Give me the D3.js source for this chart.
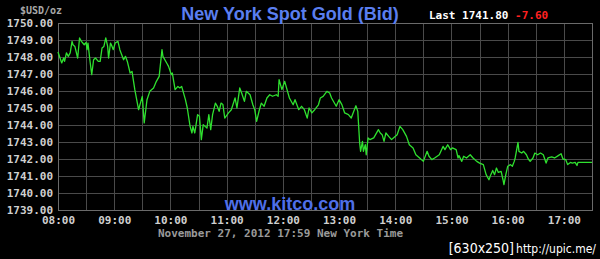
<!DOCTYPE html>
<html>
<head>
<meta charset="utf-8">
<script src="https://cdn.jsdelivr.net/npm/d3@7"></script>
<style>
  html, body { margin: 0; padding: 0; background: #000; }
  svg { display: block; }
</style>
</head>
<body>
<svg width="600" height="259"></svg>
<script>
// minutes after 08:00 New York time
var minutes = [0,4,6,7,9,11,13,15,16,18,21,23,25,28,30,31,32,34,36,38,40,43,45,47,49,51,53,54,56,57,59,61,64,66,70,72,74,77,79,82,86,89,90,92,95,98,102,105,108,111,112,116,118,121,122,125,128,130,132,136,138,141,143,144,146,149,151,153,155,157,159,161,163,165,168,170,172,174,176,178,182,185,189,191,194,196,199,201,205,208,210,212,215,217,220,223,226,229,233,235,236,239,242,245,247,251,253,257,260,263,266,268,271,274,278,280,283,287,290,292,297,300,303,306,310,313,315,318,320,322,323,325,326,328,329,331,333,337,339,342,344,346,348,350,353,356,358,362,365,368,372,375,379,382,386,390,394,396,399,402,407,411,413,416,419,421,425,427,428,431,433,436,440,443,447,450,454,457,460,462,464,466,468,470,473,475,476,478,480,483,485,487,488,491,492,495,497,500,502,504,507,509,512,515,518,521,523,527,530,534,537,539,542,544,547,549,552,554,555,561,570];
var prices = [1748.29,1747.65,1747.94,1747.74,1748.24,1748.04,1748.24,1748.92,1748.72,1748.62,1747.94,1749.12,1748.92,1748.72,1748.86,1748.43,1748.82,1747.84,1746.96,1747.84,1747.94,1747.74,1747.74,1748.53,1748.62,1749.12,1748.62,1747.94,1748.82,1748.72,1748.43,1748.82,1748.92,1748.43,1747.84,1748.04,1747.74,1747.06,1747.15,1746.08,1744.90,1745.49,1745.68,1744.12,1745.49,1745.98,1746.18,1746.57,1746.86,1748.43,1748.04,1747.65,1747.45,1746.96,1747.06,1746.08,1746.27,1746.18,1746.27,1745.49,1745.00,1743.92,1743.53,1743.92,1743.53,1744.61,1744.51,1743.14,1744.02,1743.92,1743.82,1744.61,1743.73,1744.61,1745.29,1745.10,1744.80,1745.29,1745.20,1744.41,1744.71,1744.90,1745.59,1745.00,1746.18,1745.88,1745.39,1745.98,1745.78,1745.19,1744.90,1744.21,1744.90,1745.29,1745.10,1745.59,1745.78,1745.69,1745.78,1745.69,1746.67,1746.08,1746.57,1745.98,1745.59,1745.19,1745.49,1744.90,1745.10,1744.90,1744.41,1745.00,1744.71,1744.90,1745.19,1745.59,1745.68,1745.98,1745.88,1745.59,1745.10,1745.49,1745.20,1744.71,1744.61,1744.41,1744.71,1745.13,1744.80,1742.94,1742.45,1743.04,1742.45,1742.84,1742.25,1743.24,1743.14,1743.24,1743.43,1743.73,1743.53,1743.43,1743.04,1743.53,1743.33,1743.14,1743.24,1743.43,1743.92,1743.73,1743.33,1742.84,1742.65,1742.25,1742.06,1741.86,1742.45,1742.16,1741.96,1742.06,1742.25,1742.74,1742.55,1742.84,1742.55,1742.65,1742.55,1742.06,1742.20,1741.86,1742.16,1742.06,1742.25,1742.06,1741.86,1741.76,1741.67,1741.08,1740.78,1741.08,1741.33,1741.08,1741.47,1741.21,1741.27,1740.78,1740.49,1741.08,1741.57,1741.67,1741.57,1741.86,1742.06,1742.98,1742.45,1742.35,1742.45,1742.25,1742.00,1741.86,1742.06,1742.35,1742.25,1742.35,1742.25,1741.76,1742.06,1742.12,1742.06,1742.20,1742.31,1742.00,1741.96,1741.67,1741.80,1741.76,1741.80,1741.62,1741.80,1741.80,1741.80];
var priceTicks = [1739,1740,1741,1742,1743,1744,1745,1746,1747,1748,1749,1750];
var hourLabels = ["08:00","09:00","10:00","11:00","12:00","13:00","14:00","15:00","16:00","17:00"];
var lastPrice = "1741.80";
var change = "-7.60";

var day = new Date(2012, 10, 27);
function at(m) { return d3.timeMinute.offset(d3.timeHour.offset(day, 8), m); }
var data = minutes.map(function(m, i) { return {t: at(m), p: prices[i]}; });

var plotLeft = 58, plotRight = 592, plotTop = 23, plotBottom = 210;
var mono = "'DejaVu Sans Mono', monospace";

var x = d3.scaleTime().domain([at(0), at(570)]).range([plotLeft, plotRight]);
var y = d3.scaleLinear().domain([1739, 1750]).range([plotBottom, plotTop]);

var svg = d3.select('svg');
svg.append('rect').attr('width', 600).attr('height', 259).attr('fill', '#000');

// grid
var halfHours = d3.timeMinute.every(30).range(at(0), at(571));
svg.append('g').selectAll('line').data(halfHours).enter().append('line')
    .attr('x1', function(d) { return Math.round(x(d)) + 0.5; })
    .attr('x2', function(d) { return Math.round(x(d)) + 0.5; })
    .attr('y1', plotTop).attr('y2', plotBottom)
    .attr('stroke', '#4a4a4a').attr('stroke-width', 1);
svg.append('g').selectAll('line').data(priceTicks).enter().append('line')
    .attr('x1', plotLeft).attr('x2', plotRight)
    .attr('y1', function(d) { return Math.round(y(d)) + 0.5; })
    .attr('y2', function(d) { return Math.round(y(d)) + 0.5; })
    .attr('stroke', '#4a4a4a').attr('stroke-width', 1);
svg.append('rect')
    .attr('x', plotLeft + 0.5).attr('y', plotTop + 0.5)
    .attr('width', plotRight - plotLeft).attr('height', plotBottom - plotTop)
    .attr('fill', 'none').attr('stroke', '#6a6a6a');

// axes
var yaxis = d3.axisLeft(y).tickValues(priceTicks).tickSize(0).tickPadding(5)
    .tickFormat(d3.format(".2f"));
var gy = svg.append('g').attr('transform', 'translate(' + plotLeft + ',0)').call(yaxis);
var xaxis = d3.axisBottom(x).ticks(d3.timeHour.every(1)).tickSize(0).tickPadding(6)
    .tickFormat(function(d, i) { return hourLabels[i]; });
var gx = svg.append('g').attr('transform', 'translate(0,' + plotBottom + ')').call(xaxis);
[gx, gy].forEach(function(g) {
    g.select('.domain').remove();
    g.selectAll('text').attr('fill', '#cfcfcf').attr('font-family', mono)
        .attr('font-size', 11).attr('font-weight', 'bold');
});
gy.selectAll('text').attr('dy', '0.36em');

// price line
var line = d3.line().x(function(d) { return x(d.t); }).y(function(d) { return y(d.p); });
svg.append('path').datum(data).attr('d', line)
    .attr('fill', 'none').attr('stroke', '#2fe02f').attr('stroke-width', 1.3)
    .attr('stroke-linejoin', 'round');

// texts
svg.append('text').attr('x', 20).attr('y', 14).text('$USD/oz')
    .attr('font-family', mono).attr('font-size', 10).attr('font-weight', 'bold').attr('fill', '#a8a8a8');
svg.append('text').attr('x', 290).attr('y', 20).attr('text-anchor', 'middle')
    .text('New York Spot Gold (Bid)')
    .attr('font-family', 'Liberation Sans, Arial, sans-serif').attr('font-size', 18)
    .attr('font-weight', 'bold').attr('fill', '#5a7ef0');
var last = svg.append('text').attr('x', 429).attr('y', 19)
    .attr('font-family', mono).attr('font-size', 11).attr('font-weight', 'bold');
last.append('tspan').attr('fill', '#ffffff').text('Last ' + lastPrice + ' ');
last.append('tspan').attr('fill', '#ff2020').text(change);
svg.append('text').attr('x', 290).attr('y', 210).attr('text-anchor', 'middle')
    .text('www.kitco.com')
    .attr('font-family', 'Liberation Sans, Arial, sans-serif').attr('font-size', 18)
    .attr('font-weight', 'bold').attr('fill', '#4f6fe8');
svg.append('text').attr('x', 158).attr('y', 237)
    .text('November 27, 2012 17:59 New York Time')
    .attr('font-family', mono).attr('font-size', 11).attr('font-weight', 'bold').attr('fill', '#9a9a9a');
var up = svg.append('text').attr('x', 596).attr('y', 253).attr('text-anchor', 'end')
    .attr('fill', '#ffffff').attr('font-family', "'Comic Sans MS', 'DejaVu Sans Condensed', sans-serif");
up.append('tspan').attr('font-size', 14).text('[630x250]');
up.append('tspan').attr('font-size', 12).attr('dx', 2).text('http://upic.me/');
</script>
</body>
</html>
